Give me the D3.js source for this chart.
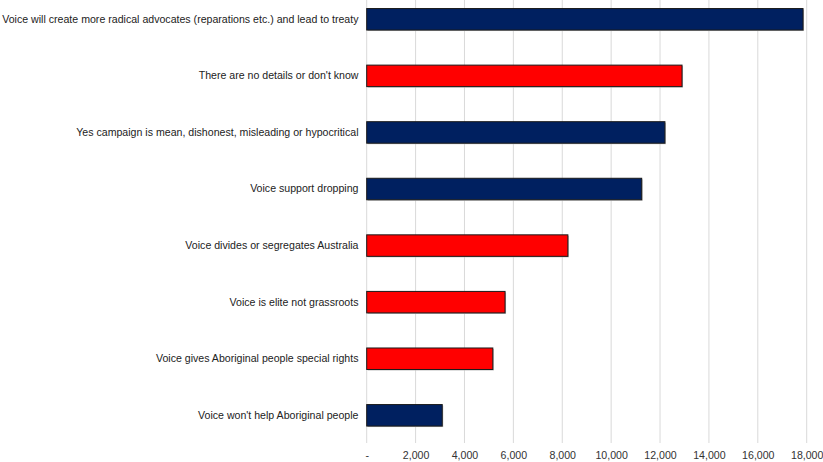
<!DOCTYPE html>
<html><head><meta charset="utf-8">
<script src="https://cdn.jsdelivr.net/npm/d3@7"></script>
<style>body{margin:0;background:#fff}svg{display:block}</style>
</head><body>
<svg id="c" width="823" height="462"></svg>
<script>
const categories = [
  "Voice will create more radical advocates (reparations etc.) and lead to treaty",
  "There are no details or don't know",
  "Yes campaign is mean, dishonest, misleading or hypocritical",
  "Voice support dropping",
  "Voice divides or segregates Australia",
  "Voice is elite not grassroots",
  "Voice gives Aboriginal people special rights",
  "Voice won't help Aboriginal people"
];
const values = [17850, 12900, 12200, 11250, 8230, 5660, 5160, 3090];
const groups = ["blue", "red", "blue", "blue", "red", "red", "red", "blue"];
const tickValues = [0, 2000, 4000, 6000, 8000, 10000, 12000, 14000, 16000, 18000];
const tickLabels = ["-", "2,000", "4,000", "6,000", "8,000", "10,000", "12,000", "14,000", "16,000", "18,000"];

const colors = {blue: "#002060", red: "#ff0000"};
const svg = d3.select("#c");
const x = d3.scaleLinear().domain([0, 18000]).range([366.7, 806.7]);
const y = d3.scaleBand().domain(categories).range([-9, 443.6]).paddingInner(0.62).paddingOuter(0.31);

// gridlines
svg.append("g").selectAll("line").data(tickValues).join("line")
  .attr("x1", d => x(d)).attr("x2", d => x(d))
  .attr("y1", 0).attr("y2", 443)
  .attr("stroke", "#d9d9d9").attr("stroke-width", 1);

// bars (shadow + bar)
const bars = svg.append("g");
bars.selectAll("rect.sh").data(values).join("rect").attr("class","sh")
  .attr("x", x(0) + 1).attr("y", (d,i) => y(categories[i]) + 1)
  .attr("width", d => x(d) - x(0)).attr("height", y.bandwidth())
  .attr("fill", "#bbb");
bars.selectAll("rect.b").data(values).join("rect").attr("class","b")
  .attr("x", x(0)).attr("y", (d,i) => y(categories[i]))
  .attr("width", d => x(d) - x(0)).attr("height", y.bandwidth())
  .attr("fill", (d,i) => colors[groups[i]])
  .attr("stroke", "#1a1a1a").attr("stroke-width", 1);

// x axis labels
const xAxis = d3.axisBottom(x).tickValues(tickValues).tickSize(0)
  .tickFormat((d,i) => tickLabels[i]);
const gx = svg.append("g").attr("transform", "translate(0,448)").call(xAxis);
gx.select(".domain").remove();
gx.selectAll("text").attr("font-family", "Liberation Sans, Arial, sans-serif")
  .attr("font-size", "10.6px").attr("fill", "#333");

// y axis labels
const yAxis = d3.axisLeft(y).tickSize(0).tickPadding(0);
const gy = svg.append("g").attr("transform", "translate(358.5,0)").call(yAxis);
gy.select(".domain").remove();
gy.selectAll("text").attr("font-family", "Liberation Sans, Arial, sans-serif")
  .attr("font-size", "10.6px").attr("fill", "#222");
</script>
</body></html>
